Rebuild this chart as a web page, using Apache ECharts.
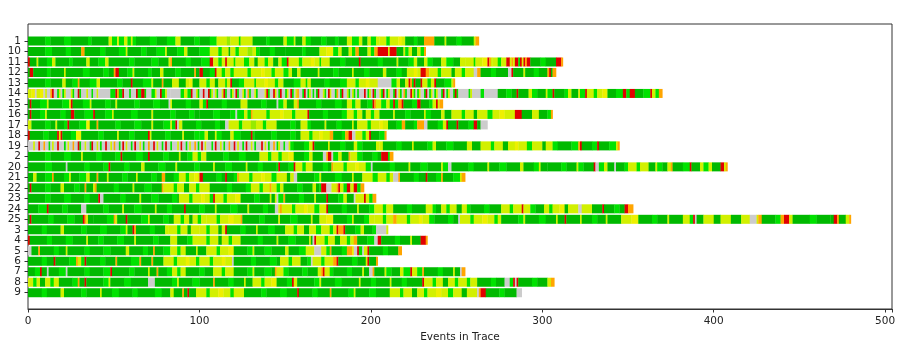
<!DOCTYPE html>
<html>
<head>
<meta charset="utf-8">
<title>Events in Trace</title>
<script src="https://cdn.jsdelivr.net/npm/echarts@6.0.0/dist/echarts.min.js"></script>
<style>
  html, body { margin: 0; padding: 0; background: #fff; }
  #chart { width: 901px; height: 349px; }
</style>
</head>
<body>
<div id="chart"></div>
<script>
// trace ids (sorted as text, like the source)
var traceLabels = ['1', '10', '11', '12', '13', '14', '15', '16', '17', '18', '19', '2', '20',
  '21', '22', '23', '24', '25', '3', '4', '5', '6', '7', '8', '9'];

// events of every trace, run-length coded: letter = event class, number = how many events in a row
var traceRuns = [
  // 1
  'G10g3G8g4G10g2G10y2g3Y1g3y2g2y1g2G8g4G6g5y3G8g3G6g4y6l2y5g1y7G8g2G8y2g4y1G4y2g3G6g3G5g2G5y3g4y2G3y2g3y2y4g2y5Y2y2G5g2G4o6G6y1G6g3G7y1o2',
  // 10
  'G10g4G8g3G6o2G9g3G8g4y1G8g3G6g5y1G6g4y2G7g6y5g2y4G1y3g2y5l3y2g2G6g3G6G10g2G8y4Y4g3y2G4y2g2o2G5y2g2o2r6y1r4G4y1g2y2G3y2g2o1',
  // 11
  'r1G4y1G5g3y2G8g2G8y2G5g4y2G12g3G10g4G6y1o1G8g3G6g5r2y3g2y2r1y4g1y5g3y3G2y4g2y3G3y2g3r1y6g2y5Y2y3g1y5G6g3G8r1G10g3G8y1G6g3y2G4y2g3G5y3g4G4y3y5g1y4Y3r1o1y1y3g2y3r2y1o1y1r2g1r1y1r1o1r2G6g3G6r3o1',
  // 12
  'G1r2G8g2G8y1G10g4G8g3G3o1r2G5g3y1G8g2G5y2G7g3G8o1G2r2G4g3r1y3g2y3g2y8g2y6Y2y4g2y5g3y2G3y2G10y1G8g3G8y1G6g3G8y2G6g3G3y4Y2y2r3o2y5g2y6G2y4g2y5x2o2G6g3G7x2r1G6y1G5g3G5o1r1G1o2',
  // 13
  'G10g3G7y2G4g3o1G6g4y2G10g3G5r1G6g5y1G5o1G5y4G4y2Y2G4y4g2y3G2y4g1y2r1G4g3y6g1y5Y2y4g2y3G6g4y3g1y2G8g3G6g4y5g2y4Y2y5x8g3y2G3y2r1o1g1r1G3r1y3g2y2r1G5g4y1o1',
  // 14
  'y2Y2x1y2Y2x1y1x2o1r1x2g1y1x1g1y1x3y1g1x2r1g1x3y1x2g1x2y1x1x6g3r1o1g2r1x3g1x3r1g2r2g1x3g2y1x2r1g2y1x2x6g2y2g2r1x2y1g1x2r1x2r1g1y1x1y1' +
  'g1x2y1r1g1x2g1y1x1r1g1x2y1g1x1o1g1x2y1g1x4y1r1g1x2r1y1x1g1r1x2g1y1x1r1g1x1y1o1x2g1r1x1g1y1x1g1x1g1r1x2y1g1x1r1y1x2g1o1x1g1r1x2y1g1x1y1g1x1g1x3' +
  'r1x1g1y1x1r1g1x2y1g1r1x1g1y1x2g1r1x1y1g1x1o1g1x2r1y1g1x1g1y1x2g1r1x1g1y1x1g1y1x2g1r1x1g1y1x2g1r1g1x6g1y1x5g2x8' +
  'G5g3G3r1G6y2g3G5y1g3r1G6g2y2G4y1g3r1y4g2y3Y3G5g4r2g2r3G5g4r1y2g2o2',
  // 15
  'G1r1G5g4y1G8g4y1r1G6g4y1G8g3G3y1G10g3G8g4G5x1y1G8g3G5y2g2r1G8g3G8y4G8g3G6x1g3y2G4y2o1G10g3G8g4G3y3g2y3G4g3r1o1y3g3y2g2r1g2o2r1G5g3r2G5g2y2r1y1o2',
  // 16
  'G1r1G5g3y1G8g3G3r2G6g5r1G6g4y1G10g4G8y1G10g3G8g3G3G8g4G6g3x1g4y2g2o1y8g2y6Y2y5g2y7r1G8g3G8g3y4g2y3G2y3g2y3G8y1G6g3G8y1g3G6y2G4y6g2y5G2y6g3y4Y3y6r4G6y4G5g2o1',
  // 17
  'y2G8g3G3y1G4g2r1G6g4Y2G4o1G10g3G8g4G6y1G6g4y1g2r1x1y2G8g3G8g3G3x2y6g2y5l3y4g2y6G8g3G3y4g2G8y1G6g3G6y1G2y6g2y5Y2y3G5g3o2G5g2o4x2G6g3y2r1G5r1G6g3r2G2x4',
  // 18
  'r1G8g3G5r1y1r1G5g3Y3G10g3G8y1G6g3G8r1y1G8g3G7y1G6g3g3y2G4y1g3G5y2g4G6r1g1G10g3G8g3G3y5g2y4Y2y4o2G5g2o2r2x2y4g2y2r1G5g3o1',
  // 19
  'x3y1x2r1x2o1x2g1x1y1x2r1x2x1g1x1y1x2o1x2r1g1x2y1x2g1r1x2y1x1g1x2r1x2y1x1o1x2g1x1r1x1y1x2g1x1r1x2y1x1g1x2o1x2r1x1y1x2g1x1' +
  'r1x2g1x3y1x1r1x2g1x1y1x2o1x1g1x1r1x1y1x3g1x1r1x2y1x1g1x2o1x2r1x1y1x2g1x1r1x2y1x1g1x3r1x1y1x1g1x2o1x1g1y1x2g1x2y1g2' +
  'G6g3y2r1G8y1G6g3G5y2g3G8y2y2G8g3G6y1G8g3y2G6g4G8y3G5y6g2y5G3y4Y2y5g3y6G2y4g3G8g4o1r1G6g3r1G6g4y1o1',
  // 2
  'G10g3G8g4G6y1G8g3G8g3r1G8g4G3r1G8g3G6y1G4g3y3g2y3G2G8g3G6g4G8y5g2y4g2y4Y3G6g3y2G6x2o1r2x1g3y2G4o1y4g3G6g3G2r4g1o2',
  // 20
  'G10g4G8x1G10g3G8g3r1G8g3G7y2G8g4G6y1G10g3G8y1G6g4G8y1G6g3G8g1r1G5g3r1y4g2y4G6g3G2o1y6g2y5Y2y4g3x1G10g3G8y1G6g4G8y1g3x2' +
  'G10g3G8y1G6g4G8y2G6g3y1G4G8g3G6y1g3G6r1x2g3y2G4x1G5g2y5g2y5G4y1g3G3y2o1G6g4r1G5y2g3y2G5r2y1o1',
  // 21
  'G3y2G5g4o1G6g3y1G5g4y2G4o1G5y1G8g3G5y1G8g3G3o2G5g3y4g2y3Y2y1r2G8g3G2r1G4g2o1y6g2y5Y2y4g3y6G2y2x2G10g3y1G8g4G6y1G5y6g3y5g2y2x3o1G8g3G4r1G5g3o1G6g4y1o2',
  // 22
  'G1r1G8g3G6y2G6g3G3o1G4y1o1G10g3G8y1G6g4G6o1y6g2y4G3y4g2y6G10g3G8g3y5g2y4o1y3g2y2G8g3G6y2G2g1r3x3y3o1r1y2g2r2y2r2g2o2',
  // 23
  'G10g3G8g4G8g3G5r1x2G10g3G8y1G6g4G8g3G1y6g2y5Y2y3g2r1y5g2y5Y3G8g3G6y1G2y1x1g3o1G8g3G6y1G6r1G6g3y2G4x1y5r1y2g2o2',
  // 24
  'G6g5r1G8g3G8x3G10g3G8y1G6g4G8y1G6g3G7r1G8g3G6y1G8g4G6y1G8g3G4x2y1o1y6g2y5Y2y4g3y4r1G8g3G6y1G6g3y5g2y4G8g3G8y4g2G3y3g2y4G3y3g2G8g3G7y5g2y5r1y4g3G5y3g2y4Y3G2y6x2y6G6r1G6g3G3r2o3',
  // 25
  'G1r1G10g3G8g4G5r1o1y1G3G8g4o1y1G5r1G8g4y1G8g3G3y4g2y3G2y3g2y3y6g2y5Y3y4o1G10g3G8y1G6g4G8y1G4y4Y4G8g3y1G6g3y3y5g2y4o2y6g2y5Y2y4g3G8g3G3x1' +
  'y6g2y5Y3y4g2y2G10g3y1G8g4G6y1G4r1G8y1G6g3G5y1G8y6Y4G8g3G6y1G8y4g2r1x1G4y6G4y6G6y5x4y1o2G8g3o2r3y2G10g4G8G2r2o1G4y2o1',
  // 3
  'G8g3G8y2G10g3G8g4G8g3y1G3r1o1G8g3G6y2y5g2y4G2y5y4g2y5G2y2r1G8g3G6y1G6g4G6y5g2y4G3y4g3y5g2y2r1o3r1G6g3y2G5g2x6y1',
  // 4
  'r1G10g3G8g4G8y1G6g3G8g4G6y1G10g3G7y4G6g3y2y6g2y5G2y4g2y5G10g3G8y1G6g4G8y1G1x1r1y5g2y4G3y4g2y2o2G6g4x2r2G8g3G6y1G5r3o1',
  // 5
  'x2G4o1G8g3G4y1G10g3G8g4G9y2G8g3G3o1G5g4y4g2y3G6y1G5y6g2y5Y3G8g3y1G6g4G8y2G6g4y5x4y3g2o1G6g3o3Y1x2r1g2x1y2r1G8g3G6o2',
  // 6
  'G8g3G4r1G8g4o1y2g2r1G8g3G6o1G8g5o1G6o1G6y6g2y5Y2y4g2y6g2y5Y2y4x1G10g3G8g4G2y5g2y5G4g2x1y5g2y5o2r1G8g3G5y1r1G4o1',
  // 7
  'G4g3r1G3x1G6g4x1G10g3G8g4r1G10g3G8y1G4o1G5g3y3g2y3G8g3G5y5g2y5G8g3y1G6g4G2o1y4g3G8g3G6y2o1r1y3g2G8g3G6y1G3x2o1G6y1g3G5y2g4r1y3g3o1G8g3G6y1G3x1o2',
  // 8
  'y3g2y2G3y3g2y3G8g3o1G3r1G10g3y1G8g4G10x4G10g3y1G8g4G8o1G8g3G6y1G4y5g2y4Y3G6g3r1y2G10g3y1G8g4G10y1G6g3G8y1G6g3G3G6r1y5g2y4G3y4g2y5g2y4G8g3G5x3g2r1x1r1G8g3G6y2o2',
  // 9
  'G8g3G8y2G10g3G8y1G6g4G8g3G10g4G5y2G5o1G2r1G4y6g2y5Y3y4g2y6G10g3G8g4G6r1G8g3G7o1G10g3y1G8g4G8y6g2y5G3y4g2y5Y3y4g3y5G3y6x1o1r3G8g3G7x3'
];

// event class -> colour
var classColors = {
  G: '#00b900',  // green, dark
  g: '#00e200',  // green, light
  l: '#96ea00',  // lime
  y: '#d2f000',  // yellow-green
  Y: '#eef000',  // yellow
  o: '#ffa500',  // orange
  r: '#e00000',  // red
  x: '#cccccc'   // grey
};

var xMax = 504;

// turn the run codes into [start, end, row] cells
var cells = [];
traceRuns.forEach(function (code, row) {
  var pos = 0;
  code.replace(/([A-Za-z])(\d+)/g, function (m, cls, n) {
    n = +n;
    cells.push({ value: [pos, pos + n, row], itemStyle: { color: classColors[cls] } });
    pos += n;
    return m;
  });
});

function drawCell(params, api) {
  var row = api.value(2);
  var start = api.coord([api.value(0), row]);
  var end = api.coord([api.value(1), row]);
  var h = api.size([0, 1])[1] * 0.86;
  return {
    type: 'rect',
    shape: { x: start[0], y: start[1] - h / 2, width: end[0] - start[0] + 0.3, height: h },
    style: { fill: api.visual('color') }
  };
}

var font = 'DejaVu Sans';
var myChart = echarts.init(document.getElementById('chart'));
var option = {
  animation: false,
  grid: [
    // frame + x axis
    { left: 28, right: 9, top: 24, bottom: 40, show: true, borderColor: '#333', borderWidth: 1 },
    // rows
    { left: 28, right: 9, top: 35.76, bottom: 51.03 }
  ],
  xAxis: [
    {
      gridIndex: 0,
      type: 'value',
      min: 0,
      max: xMax,
      interval: 100,
      name: 'Events in Trace',
      nameLocation: 'middle',
      nameGap: 22,
      nameTextStyle: { fontFamily: font, fontSize: 10.5, color: '#222' },
      axisLine: { show: true, lineStyle: { color: '#333', width: 1 } },
      axisTick: { show: true, length: 3.5, lineStyle: { color: '#333' } },
      axisLabel: {
        margin: 7, fontFamily: font, fontSize: 10.5, color: '#222',
        formatter: function (v) { return v % 100 === 0 ? String(v) : ''; }
      },
      splitLine: { show: false }
    },
    { gridIndex: 1, type: 'value', min: 0, max: xMax, show: false }
  ],
  yAxis: [
    { gridIndex: 0, type: 'value', show: false },
    {
      gridIndex: 1,
      type: 'category',
      inverse: true,
      data: traceLabels,
      axisLine: { show: false },
      axisTick: { show: true, alignWithLabel: true, interval: 0, length: 3.5, lineStyle: { color: '#333' } },
      axisLabel: { interval: 0, margin: 7, fontFamily: font, fontSize: 10.5, color: '#222' },
      splitLine: { show: false }
    }
  ],
  series: [
    {
      type: 'custom',
      xAxisIndex: 1,
      yAxisIndex: 1,
      renderItem: drawCell,
      encode: { x: [0, 1], y: 2 },
      data: cells
    }
  ]
};
myChart.setOption(option);
</script>
</body>
</html>
